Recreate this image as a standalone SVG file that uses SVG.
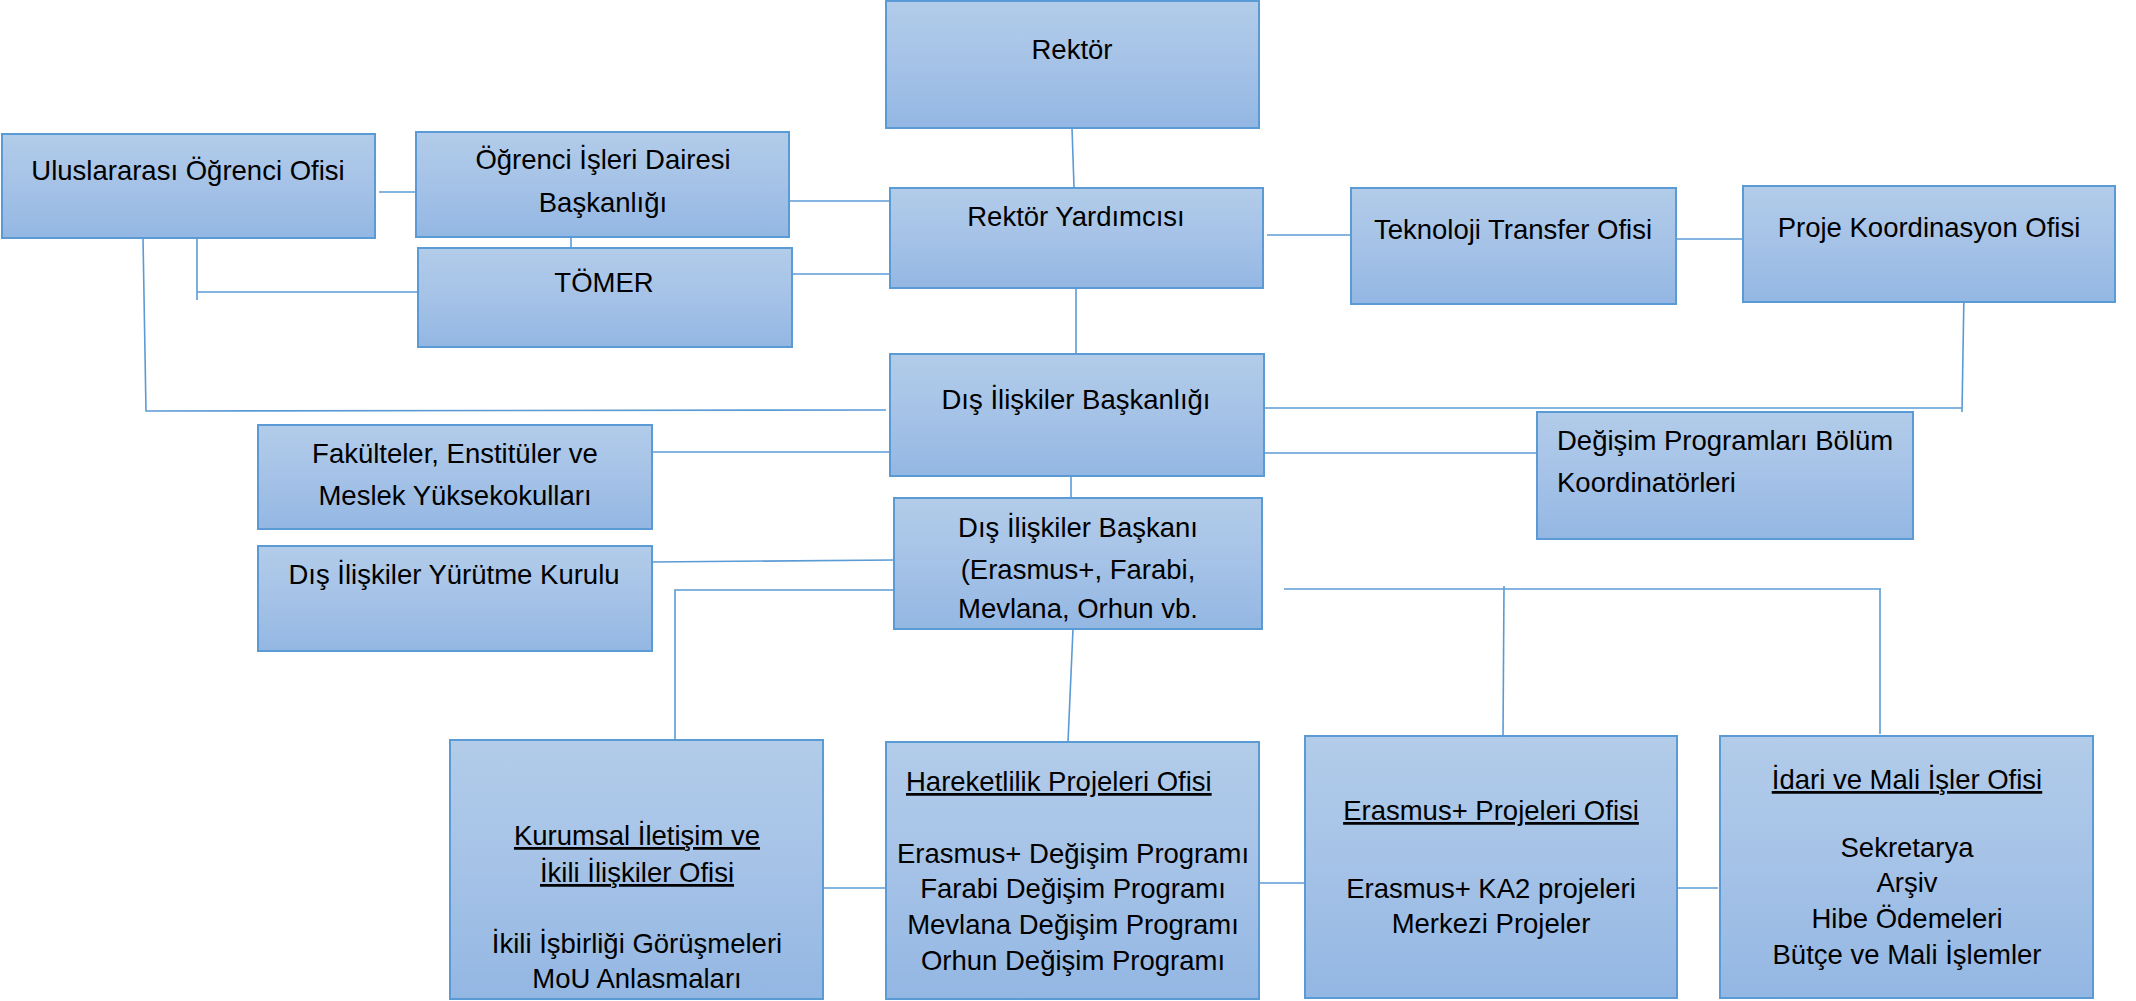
<svg xmlns="http://www.w3.org/2000/svg" width="2136" height="1001" viewBox="0 0 2136 1001">
<defs>
<linearGradient id="g" x1="0" y1="0" x2="0" y2="1">
<stop offset="0" stop-color="#b2cce9"/>
<stop offset="0.5" stop-color="#a5c2e7"/>
<stop offset="1" stop-color="#93b7e3"/>
</linearGradient>
</defs>
<style>
.box{fill:url(#g);stroke:#5b9bd5;stroke-width:2}
.t{font-family:"Liberation Sans",Arial,sans-serif;font-size:27.5px;fill:#000;text-anchor:middle}
.l{text-anchor:start}
.u{text-decoration:underline}
.c line,.c polyline{stroke:#5b9bd5;stroke-width:1.6;fill:none}
</style>
<rect width="2136" height="1001" fill="#fff"/>
<g class="c" id="connectors">
<line x1="1072" y1="128" x2="1074" y2="187"/>
<line x1="1076" y1="288" x2="1076" y2="354"/>
<line x1="790" y1="201" x2="891" y2="201"/>
<line x1="792" y1="274" x2="891" y2="274"/>
<line x1="1267" y1="235" x2="1351" y2="235"/>
<line x1="1676" y1="239" x2="1743" y2="239"/>
<line x1="379" y1="192" x2="416" y2="192"/>
<line x1="571" y1="237" x2="571" y2="259"/>
<line x1="603" y1="144" x2="603" y2="157"/>
<polyline points="197,234 197,300"/>
<line x1="197" y1="292" x2="417" y2="292"/>
<polyline points="143,238 146,411 886,410"/>
<line x1="652" y1="452" x2="890" y2="452"/>
<line x1="1071" y1="476" x2="1071" y2="502"/>
<line x1="652" y1="562" x2="894" y2="560"/>
<polyline points="675,740 675,590 898,590"/>
<line x1="1073" y1="629" x2="1068" y2="742"/>
<line x1="1284" y1="589" x2="1881" y2="589"/>
<line x1="1504" y1="586" x2="1503" y2="736"/>
<line x1="1880" y1="589" x2="1880" y2="734"/>
<polyline points="1264,408 1962,408"/>
<line x1="1964" y1="292" x2="1962" y2="412"/>
<line x1="1264" y1="453" x2="1537" y2="453"/>
<line x1="823" y1="888" x2="886" y2="888"/>
<line x1="1259" y1="883" x2="1305" y2="883"/>
<line x1="1677" y1="888" x2="1718" y2="888"/>
</g>
<g id="rektor"><rect class="box" x="886" y="1" width="373" height="127"/><text class="t" x="1072" y="59">Rektör</text></g>
<g id="rektor-yardimcisi"><rect class="box" x="890" y="188" width="373" height="100"/><text class="t" x="1076" y="226">Rektör Yardımcısı</text></g>
<g id="teknoloji"><rect class="box" x="1351" y="188" width="325" height="116"/><text class="t" x="1513" y="239">Teknoloji Transfer Ofisi</text></g>
<g id="proje"><rect class="box" x="1743" y="186" width="372" height="116"/><text class="t" x="1929" y="237">Proje Koordinasyon Ofisi</text></g>
<g id="ogrenci-isleri"><rect class="box" x="416" y="132" width="373" height="105"/><text class="t" x="603" y="169">Öğrenci İşleri Dairesi</text><text class="t" x="603" y="212">Başkanlığı</text></g>
<g id="tomer"><rect class="box" x="418" y="248" width="374" height="99"/><text class="t" x="604" y="292">TÖMER</text></g>
<g id="uluslararasi"><rect class="box" x="2" y="134" width="373" height="104"/><text class="t" x="188" y="180">Uluslararası Öğrenci Ofisi</text></g>
<g id="dis-iliskiler-baskanligi"><rect class="box" x="890" y="354" width="374" height="122"/><text class="t" x="1076" y="409">Dış İlişkiler Başkanlığı</text></g>
<g id="fakulteler"><rect class="box" x="258" y="425" width="394" height="104"/><text class="t" x="455" y="463">Fakülteler, Enstitüler ve</text><text class="t" x="455" y="505">Meslek Yüksekokulları</text></g>
<g id="yurutme"><rect class="box" x="258" y="546" width="394" height="105"/><text class="t" x="454" y="584">Dış İlişkiler Yürütme Kurulu</text></g>
<g id="dis-iliskiler-baskani"><rect class="box" x="894" y="498" width="368" height="131"/><text class="t" x="1078" y="537">Dış İlişkiler Başkanı</text><text class="t" x="1078" y="579">(Erasmus+, Farabi,</text><text class="t" x="1078" y="618">Mevlana, Orhun vb.</text></g>
<g id="degisim"><rect class="box" x="1537" y="412" width="376" height="127"/><text class="t l" x="1557" y="450">Değişim Programları Bölüm</text><text class="t l" x="1557" y="492">Koordinatörleri</text></g>
<g id="kurumsal"><rect class="box" x="450" y="740" width="373" height="259"/><text class="t u" x="637" y="845">Kurumsal İletişim ve</text><text class="t u" x="637" y="882">İkili İlişkiler Ofisi</text><text class="t" x="637" y="953">İkili İşbirliği Görüşmeleri</text><text class="t" x="637" y="988">MoU Anlasmaları</text></g>
<g id="hareketlilik"><rect class="box" x="886" y="742" width="373" height="257"/><text class="t l u" x="906" y="791">Hareketlilik Projeleri Ofisi</text><text class="t" x="1073" y="863">Erasmus+ Değişim Programı</text><text class="t" x="1073" y="898">Farabi Değişim Programı</text><text class="t" x="1073" y="934">Mevlana Değişim Programı</text><text class="t" x="1073" y="970">Orhun Değişim Programı</text></g>
<g id="erasmus-projeleri"><rect class="box" x="1305" y="736" width="372" height="262"/><text class="t u" x="1491" y="820">Erasmus+ Projeleri Ofisi</text><text class="t" x="1491" y="898">Erasmus+ KA2 projeleri</text><text class="t" x="1491" y="933">Merkezi Projeler</text></g>
<g id="idari-mali"><rect class="box" x="1720" y="736" width="373" height="262"/><text class="t u" x="1907" y="789">İdari ve Mali İşler Ofisi</text><text class="t" x="1907" y="857">Sekretarya</text><text class="t" x="1907" y="892">Arşiv</text><text class="t" x="1907" y="928">Hibe Ödemeleri</text><text class="t" x="1907" y="964">Bütçe ve Mali İşlemler</text></g>
</svg>
